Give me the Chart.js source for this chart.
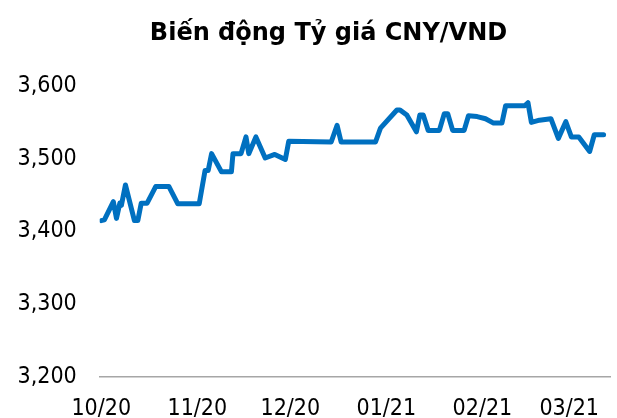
<!DOCTYPE html>
<html>
<head>
<meta charset="utf-8">
<script src="https://cdn.jsdelivr.net/npm/chart.js@4.4.1/dist/chart.umd.min.js"></script>
<style>
    body { margin: 0; background: #fff; }
    .wrap { position: relative; width: 617px; height: 418px; }
    .chart-title {
        position: absolute; left: 40px; top: 16px; width: 577px;
        text-align: center; font: bold 24px 'DejaVu Sans', sans-serif; color: #000;
        line-height: 32px;
    }
</style>
</head>
<body>
<div class="wrap">
    <div class="chart-title">Biến động Tỷ giá CNY/VND</div>
    <canvas id="fx-chart" width="617" height="418"></canvas>
</div>
<script>
// CNY/VND rate, days counted from 01/10/2020 (turning points)
const days = [0, 1, 3.9, 4.9, 6, 6.5, 7.8, 10.7, 11.8, 12.9, 14.8, 17.6, 21.8, 24.7, 31.6,
    33.5, 34.5, 35.6, 38.8, 42, 42.5, 45.1, 46.7, 47.6, 49.9, 52.9, 56, 59.4, 60.5,
    74.2, 76.1, 77.4, 88.5, 90.1, 95.4, 96.4, 98.6, 101.7, 102.8, 103.9, 105.5, 109.1,
    110.7, 111.8, 113.4, 117.1, 118.5, 121.3, 124, 126.6, 129.3, 130.5, 136.7, 137.7,
    138.8, 141.4, 145.1, 147.5, 149.9, 151.7, 154.1, 157.6, 159.1, 162.1];
const rates = [3415, 3416, 3441, 3418, 3439, 3436, 3464, 3415, 3415, 3439, 3439, 3462, 3462, 3438, 3438,
    3484, 3484, 3507, 3482, 3482, 3507, 3507, 3530, 3507, 3530, 3501, 3506, 3499, 3524,
    3523, 3546, 3523, 3523, 3542, 3567, 3567, 3560, 3537, 3560, 3560, 3539, 3539,
    3562, 3562, 3539, 3539, 3559, 3558, 3555, 3549, 3549, 3573, 3573, 3577,
    3550, 3553, 3555, 3528, 3551, 3530, 3530, 3510, 3533, 3533];

const monthDays = [0, 31, 61, 92, 123, 151];
const monthLabels = ['10/20', '11/20', '12/20', '01/21', '02/21', '03/21'];
const yTicks = [3200, 3300, 3400, 3500, 3600];

const points = days.map(function(d, i) { return { x: d, y: rates[i] }; });

const tickFont = { family: "'DejaVu Sans Condensed', 'DejaVu Sans'", size: 23 };

const ctx = document.querySelector('#fx-chart');
const fxChart = new Chart(ctx, {
    type: 'line',
    data: {
        datasets: [{
            label: 'CNY/VND',
            data: points,
            borderColor: '#0070c0',
            borderWidth: 5,
            borderJoinStyle: 'round',
            borderCapStyle: 'round',
            pointRadius: 0,
            tension: 0,
            fill: false
        }]
    },
    options: {
        responsive: false,
        animation: false,
        layout: {
            // y axis box is label + 2 x padding wide, so pull it left a bit
            padding: { left: -5.5, right: 0, top: 86, bottom: 0 }
        },
        plugins: {
            legend: { display: false },
            tooltip: { enabled: false }
        },
        scales: {
            x: {
                type: 'linear',
                min: -0.5,
                max: 164.3,
                afterBuildTicks: function(scale) {
                    scale.ticks = monthDays.map(function(v) { return { value: v }; });
                },
                afterFit: function(scale) { scale.height = 41; },
                ticks: {
                    autoSkip: false,
                    maxRotation: 0,
                    padding: 18,
                    color: '#000',
                    font: tickFont,
                    callback: function(value) {
                        const i = monthDays.indexOf(value);
                        return i >= 0 ? monthLabels[i] : '';
                    }
                },
                grid: { display: true, drawOnChartArea: false, drawTicks: false },
                border: { display: true, color: '#a6a6a6', width: 1.5 }
            },
            y: {
                min: 3200,
                max: 3600,
                afterBuildTicks: function(scale) {
                    scale.ticks = yTicks.map(function(v) { return { value: v }; });
                },
                ticks: {
                    padding: 23,
                    color: '#000',
                    font: tickFont,
                    callback: function(value) { return value.toLocaleString('en-US'); }
                },
                grid: { display: false, drawTicks: false },
                border: { display: false }
            }
        }
    }
});
</script>
</body>
</html>
